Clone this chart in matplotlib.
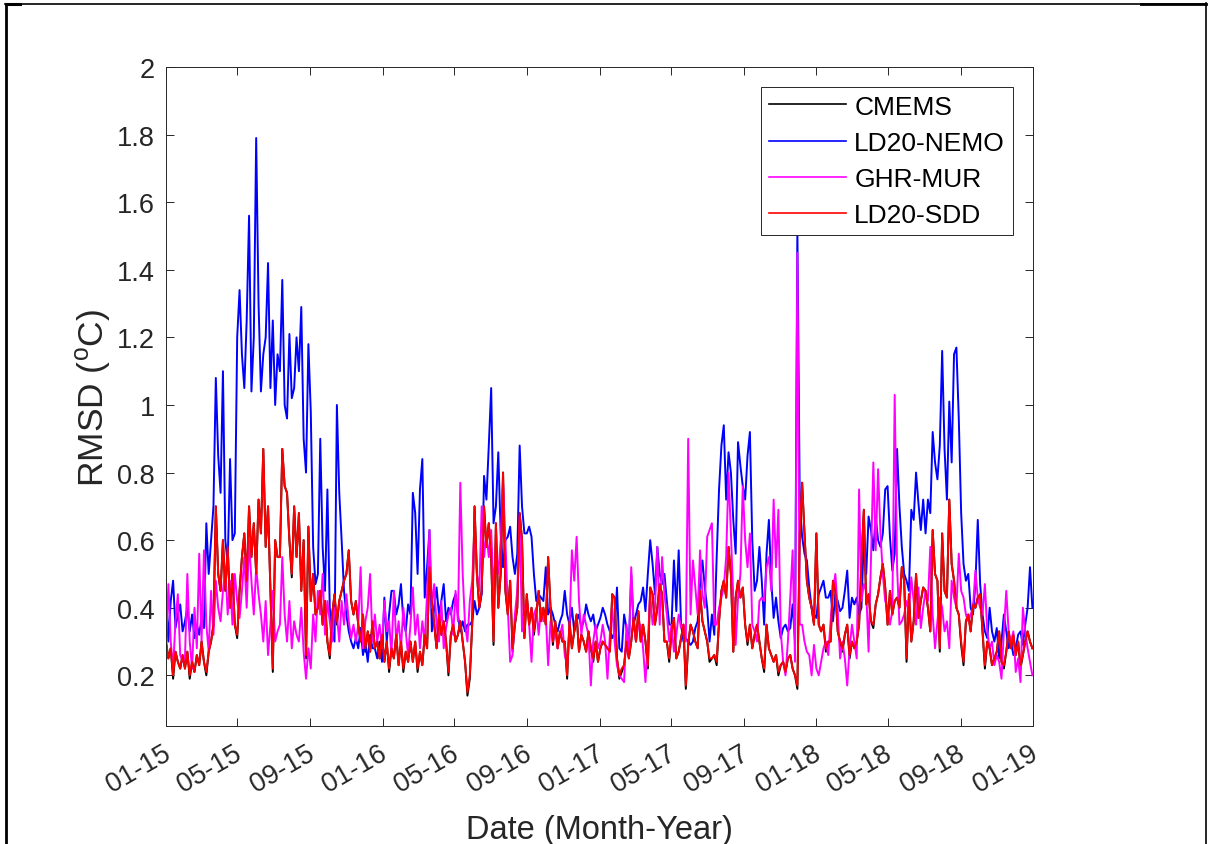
import numpy as np
import pandas as pd
import matplotlib
matplotlib.use("Agg")
import matplotlib.pyplot as plt
from matplotlib.lines import Line2D
from matplotlib.ticker import FuncFormatter
from matplotlib.transforms import ScaledTranslation

plt.rcParams['font.family'] = ['Liberation Sans', 'DejaVu Sans']
plt.rcParams['mathtext.fontset'] = 'custom'
plt.rcParams['mathtext.rm'] = 'Liberation Sans'

#RMSD sampled every 4 days from 01-01-2015, in hundredths of a degree
cmems = [30, 25, 28, 19, 27, 24, 22, 26, 22, 27, 19, 24, 21, 26, 23, 30,
         24, 20, 27, 30, 35, 70, 50, 45, 60, 45, 58, 40, 50, 35, 31, 45,
         55, 62, 47, 70, 55, 65, 50, 72, 62, 87, 58, 70, 45, 21, 60, 55,
         55, 87, 76, 74, 60, 49, 70, 55, 68, 45, 60, 25, 64, 42, 50, 38,
         40, 45, 35, 42, 30, 25, 38, 44, 35, 42, 45, 48, 50, 57, 42, 38,
         42, 35, 30, 38, 27, 33, 27, 36, 28, 30, 25, 32, 24, 30, 21, 28,
         25, 32, 23, 30, 21, 27, 24, 30, 24, 30, 21, 27, 23, 32, 28, 52,
         42, 35, 28, 38, 32, 36, 30, 20, 32, 35, 30, 32, 36, 30, 24, 14,
         19, 35, 70, 50, 40, 45, 70, 58, 65, 55, 29, 65, 40, 50, 80, 45,
         38, 48, 27, 35, 40, 68, 60, 31, 44, 35, 40, 32, 38, 45, 36, 40,
         35, 55, 40, 29, 36, 28, 33, 30, 30, 19, 36, 28, 33, 38, 27, 32,
         30, 27, 33, 28, 24, 30, 24, 28, 30, 29, 28, 27, 44, 43, 25, 19,
         21, 23, 30, 25, 30, 37, 30, 39, 30, 35, 30, 22, 46, 44, 35, 40,
         47, 44, 30, 30, 24, 33, 37, 25, 27, 31, 35, 16, 29, 35, 33, 30,
         28, 45, 36, 33, 30, 24, 25, 26, 23, 36, 45, 48, 43, 58, 50, 27,
         43, 48, 43, 46, 35, 29, 35, 28, 32, 35, 30, 25, 21, 35, 28, 26,
         24, 26, 20, 23, 24, 21, 25, 26, 22, 20, 16, 62, 77, 62, 48, 43,
         40, 35, 62, 35, 33, 35, 27, 30, 30, 48, 45, 33, 30, 27, 32, 35,
         25, 30, 28, 30, 35, 54, 69, 41, 44, 36, 34, 41, 44, 49, 53, 46,
         35, 45, 38, 42, 43, 40, 52, 48, 24, 44, 30, 36, 50, 37, 42, 46,
         45, 40, 33, 63, 50, 48, 27, 62, 45, 43, 72, 53, 48, 40, 38, 29,
         23, 36, 38, 33, 41, 40, 43, 44, 33, 22, 30, 28, 23, 25, 27, 33,
         24, 22, 27, 33, 28, 32, 26, 30, 22, 26, 30, 33, 30, 28]

ld20_nemo = [45, 30, 42, 48, 34, 38, 41, 33, 36, 40, 33, 38, 31, 35, 32, 37,
             34, 65, 50, 60, 70, 108, 85, 74, 110, 60, 53, 84, 60, 62, 120, 134,
             115, 105, 125, 156, 104, 120, 179, 130, 104, 115, 120, 142, 105, 125, 100, 115,
             110, 137, 100, 96, 121, 102, 105, 120, 110, 129, 90, 80, 118, 98, 58, 47,
             50, 90, 58, 45, 75, 40, 33, 30, 100, 74, 60, 45, 38, 33, 30, 28,
             31, 28, 34, 26, 30, 24, 32, 28, 28, 25, 30, 24, 43, 30, 38, 45,
             45, 38, 41, 47, 36, 33, 41, 38, 74, 68, 50, 75, 84, 43, 52, 63,
             33, 40, 46, 38, 42, 47, 36, 40, 38, 42, 44, 38, 33, 36, 33, 35,
             35, 36, 42, 38, 40, 44, 79, 72, 88, 105, 65, 70, 86, 62, 52, 60,
             61, 64, 55, 50, 56, 88, 70, 62, 62, 64, 61, 50, 42, 44, 43, 42,
             52, 38, 40, 38, 35, 33, 36, 38, 45, 38, 35, 40, 33, 36, 38, 34,
             36, 41, 38, 36, 38, 33, 35, 37, 40, 38, 35, 33, 31, 33, 46, 28,
             27, 38, 34, 29, 50, 35, 38, 41, 42, 46, 39, 50, 60, 53, 44, 58,
             50, 47, 50, 42, 35, 35, 54, 39, 57, 35, 30, 31, 30, 29, 30, 34,
             36, 47, 54, 46, 40, 30, 38, 32, 55, 75, 88, 94, 72, 86, 80, 66,
             56, 89, 82, 76, 72, 85, 92, 60, 45, 48, 58, 48, 35, 56, 66, 48,
             37, 43, 36, 31, 34, 35, 33, 34, 41, 30, 152, 72, 61, 56, 54, 46,
             40, 38, 37, 44, 46, 48, 43, 43, 45, 36, 44, 42, 39, 40, 45, 51,
             37, 43, 41, 43, 38, 40, 61, 50, 67, 63, 57, 67, 60, 58, 62, 75,
             76, 61, 51, 56, 87, 70, 58, 50, 48, 45, 69, 66, 80, 71, 63, 72,
             62, 72, 68, 92, 83, 78, 88, 116, 87, 72, 101, 83, 115, 117, 96, 68,
             53, 48, 50, 40, 38, 47, 66, 47, 38, 33, 31, 40, 33, 30, 34, 25,
             30, 38, 33, 28, 30, 26, 28, 32, 33, 29, 35, 40, 52, 40]

ghr_mur = [28, 47, 30, 22, 36, 44, 26, 24, 25, 50, 30, 22, 40, 28, 56, 30,
           57, 35, 27, 45, 32, 48, 40, 36, 45, 52, 38, 48, 35, 50, 42, 37,
           45, 55, 40, 60, 48, 38, 52, 44, 38, 30, 42, 26, 35, 45, 30, 33,
           35, 55, 38, 30, 42, 28, 36, 32, 30, 40, 27, 19, 28, 22, 38, 30,
           45, 38, 50, 32, 42, 36, 30, 40, 38, 30, 42, 35, 44, 36, 31, 35,
           30, 35, 52, 28, 36, 40, 50, 30, 38, 30, 35, 28, 42, 33, 36, 26,
           45, 30, 36, 28, 40, 33, 26, 35, 46, 32, 38, 28, 36, 30, 44, 63,
           40, 47, 35, 30, 42, 28, 34, 38, 40, 32, 45, 36, 77, 50, 35, 30,
           42, 48, 63, 50, 45, 70, 55, 62, 55, 63, 45, 58, 50, 60, 77, 60,
           40, 24, 26, 38, 45, 67, 33, 40, 42, 35, 24, 38, 40, 32, 40, 36,
           38, 23, 36, 30, 33, 28, 32, 35, 26, 23, 34, 57, 48, 61, 42, 32,
           38, 35, 32, 17, 30, 35, 28, 30, 35, 30, 19, 32, 40, 30, 23, 20,
           19, 18, 35, 26, 52, 36, 30, 35, 35, 28, 18, 30, 44, 35, 40, 58,
           35, 55, 44, 38, 30, 35, 27, 32, 38, 34, 35, 30, 90, 38, 54, 46,
           38, 57, 44, 40, 61, 63, 65, 35, 35, 40, 43, 46, 55, 80, 62, 43,
           29, 43, 50, 76, 60, 52, 62, 35, 33, 30, 42, 43, 42, 52, 55, 45,
           72, 52, 69, 33, 24, 20, 30, 43, 57, 24, 145, 35, 35, 30, 27, 26,
           20, 29, 22, 20, 24, 28, 30, 26, 36, 45, 50, 39, 25, 30, 25, 17,
           28, 35, 30, 25, 75, 42, 47, 45, 27, 54, 83, 57, 81, 62, 50, 42,
           40, 35, 39, 103, 52, 35, 36, 38, 42, 39, 49, 42, 35, 46, 34, 40,
           45, 42, 58, 38, 28, 36, 43, 40, 33, 36, 28, 48, 43, 40, 56, 45,
           43, 38, 36, 38, 40, 51, 43, 40, 38, 47, 33, 28, 30, 23, 26, 24,
           19, 33, 45, 33, 30, 33, 21, 25, 18, 40, 33, 28, 24, 20]

ld20_sdd = [30, 25, 28, 20, 27, 24, 22, 26, 22, 27, 20, 24, 21, 26, 23, 30,
            24, 21, 27, 30, 35, 70, 50, 45, 60, 45, 58, 40, 50, 35, 32, 45,
            55, 62, 48, 70, 55, 65, 50, 72, 62, 87, 58, 70, 45, 22, 60, 55,
            55, 87, 76, 74, 60, 50, 70, 55, 68, 45, 60, 26, 64, 42, 50, 38,
            40, 45, 35, 42, 30, 26, 38, 44, 36, 42, 45, 48, 50, 57, 42, 38,
            42, 35, 30, 38, 28, 33, 27, 36, 28, 30, 25, 32, 24, 30, 22, 28,
            25, 32, 23, 30, 22, 27, 24, 30, 24, 30, 22, 27, 23, 32, 28, 52,
            42, 35, 28, 38, 32, 36, 30, 21, 32, 35, 30, 32, 36, 30, 24, 15,
            20, 35, 70, 50, 40, 45, 70, 58, 65, 55, 30, 65, 40, 50, 80, 45,
            38, 48, 28, 35, 40, 68, 60, 31, 44, 35, 40, 33, 38, 45, 36, 40,
            35, 55, 40, 30, 36, 28, 33, 30, 30, 20, 36, 28, 33, 38, 27, 32,
            30, 27, 33, 28, 25, 30, 24, 28, 30, 29, 28, 27, 44, 43, 25, 20,
            22, 23, 30, 25, 30, 37, 30, 39, 30, 35, 30, 23, 46, 44, 35, 40,
            47, 44, 30, 30, 25, 33, 37, 25, 27, 31, 35, 17, 29, 35, 33, 30,
            28, 45, 36, 33, 30, 25, 25, 26, 24, 36, 45, 48, 43, 58, 50, 27,
            43, 48, 43, 46, 35, 30, 35, 28, 32, 35, 30, 25, 22, 35, 28, 26,
            24, 26, 21, 23, 24, 21, 25, 26, 22, 20, 17, 62, 77, 62, 48, 43,
            40, 35, 62, 35, 33, 35, 28, 30, 30, 48, 45, 33, 30, 28, 32, 35,
            26, 30, 28, 30, 35, 54, 69, 41, 44, 36, 35, 41, 44, 49, 53, 46,
            35, 45, 38, 42, 43, 40, 52, 48, 25, 44, 30, 36, 50, 37, 42, 46,
            45, 40, 33, 63, 50, 48, 28, 62, 45, 43, 72, 53, 48, 40, 38, 30,
            24, 36, 38, 33, 41, 40, 43, 44, 33, 23, 30, 28, 23, 25, 27, 33,
            24, 23, 27, 33, 28, 32, 26, 30, 23, 26, 30, 33, 30, 28]

series_names = ["CMEMS", "LD20-NEMO", "GHR-MUR", "LD20-SDD"]
series_colors = ["black", "blue", "magenta", "red"]

dates = pd.date_range("2015-01-01", periods=len(ld20_sdd), freq="4D")
tick_dates = pd.date_range("2015-01-01", "2019-01-01", freq="4MS")

fig = plt.figure(figsize=(12.08, 8.45), dpi=100)
ax = fig.add_axes([0.1374, 0.1396, 0.7177, 0.7799])

for values, name, color in zip([cmems, ld20_nemo, ghr_mur, ld20_sdd], series_names, series_colors):
    ax.plot(dates, np.array(values) / 100.0, color=color, lw=1.4, label=name)

ax.set_xlim(pd.Timestamp("2015-01-01"), pd.Timestamp("2019-01-01"))
ax.set_ylim(0.05, 2)
ax.set_yticks(np.arange(0.2, 2.01, 0.2))
ax.yaxis.set_major_formatter(FuncFormatter(lambda v, pos: "%g" % round(v, 1)))
ax.set_xticks(tick_dates)
ax.set_xticklabels([d.strftime("%m-%y") for d in tick_dates], rotation=30, ha="right")

ax.tick_params(direction="in", top=True, right=True, length=6, width=0.7,
               labelsize=19.5, colors="#262626")
ax.tick_params(axis="y", pad=8)
ax.tick_params(axis="x", pad=10)
#nudge the slanted date labels so they end just past their tick
shift = ScaledTranslation(9 / 100.0, 0, fig.dpi_scale_trans)
for lab in ax.get_xticklabels():
    lab.set_transform(lab.get_transform() + shift)

for spine in ax.spines.values():
    spine.set_linewidth(0.7)
    spine.set_color("#262626")

ax.set_xlabel("Date (Month-Year)", fontsize=23.5, color="#262626", labelpad=12)
ax.set_ylabel("RMSD ($^{\\rm o}$C)", fontsize=25.5, color="#262626", labelpad=3)

leg = ax.legend(loc="upper right", bbox_to_anchor=(0.977, 0.970), fontsize=19,
                fancybox=False, framealpha=1, edgecolor="#262626",
                borderaxespad=0, handlelength=2.95, handletextpad=0.3,
                labelspacing=0.46, borderpad=0.3)
leg.get_frame().set_linewidth(0.7)
for line in leg.get_lines():
    line.set_linewidth(1.2)

#page border around the figure
W, H = 1208.0, 845.0
border = [([6, 6], [0, 840], 2.0), ([5, 1206], [840.5, 840.5], 1.2),
          ([1206, 1206], [0, 841], 1.2), ([6, 20], [840, 840], 2.2),
          ([1141, 1206], [839.8, 839.8], 2.0)]
for xs, ys, lw in border:
    fig.add_artist(Line2D([x / W for x in xs], [y / H for y in ys],
                          transform=fig.transFigure, color="black", lw=lw))

fig.savefig("out.png", dpi=100)
